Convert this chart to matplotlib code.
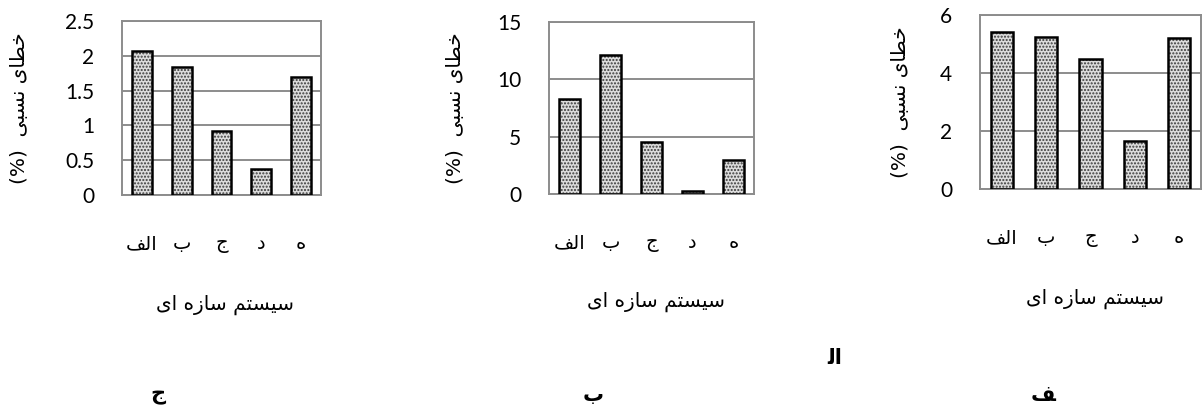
#!/usr/bin/env python3
"""Relative error (%) of five structural systems, drawn as three bar panels.

Persian strings are kept pre-shaped (Arabic presentation forms, stored in
visual left-to-right order) because matplotlib does no shaping or bidi.
"""

import matplotlib

matplotlib.use("Agg")
import matplotlib.pyplot as plt
import numpy as np
from matplotlib.ticker import FuncFormatter, MultipleLocator

# category names: الف ب ج د ه
CATEGORIES = ["\uFED2\uFEDF\uFE8D", "\uFE8F", "\uFE9D", "\uFEA9", "\uFEE9"]
# خطای نسبی (%)
Y_LABEL = "(%)  \uFEF0\uFE92\uFEB4\uFEE7 \uFEEF\uFE8E\uFEC4\uFEA7"
# سیستم سازه ای
X_LABEL = "\uFEEF\uFE8D \uFEE9\uFEAF\uFE8E\uFEB3 \uFEE2\uFE98\uFEB4\uFEF4\uFEB3"

# relative error per system, one list per panel (left to right)
ERR_JIM = [2.07, 1.84, 0.92, 0.38, 1.70]
ERR_BE = [8.3, 12.1, 4.5, 0.3, 2.95]
ERR_ALEF = [5.4, 5.25, 4.5, 1.65, 5.2]

Y_MAX = [2.5, 15, 6]
Y_STEP = [0.5, 5, 2]

GRID = "#8c8c8c"
FONT = ["Lato", "DejaVu Sans"]
AR_FONT = ["DejaVu Sans"]


def draw_panel(fig, rect, values, ymax, step, ylab_x):
    ax = fig.add_axes(rect)
    x = np.arange(len(values))

    # dotted fill first, then a plain black outline on top
    ax.bar(x, values, 0.5, color="#dcdcdc", edgecolor="#3a3a3a",
           hatch=".....", linewidth=0, zorder=2)
    ax.bar(x, values, 0.5, fill=False, edgecolor="black",
           linewidth=1.8, zorder=3)

    ax.set_xlim(-0.5, len(values) - 0.5)
    ax.set_ylim(0, ymax)
    ax.yaxis.set_major_locator(MultipleLocator(step))
    ax.yaxis.set_major_formatter(FuncFormatter(lambda v, _: f"{v:g}"))
    ax.set_axisbelow(True)
    ax.yaxis.grid(True, color=GRID, linewidth=1.4)

    for sp in ax.spines.values():
        sp.set_color(GRID)
        sp.set_linewidth(1.4)

    ax.tick_params(axis="y", length=0, pad=20, labelsize=15)
    for lab in ax.get_yticklabels():
        lab.set_fontfamily(FONT)

    ax.set_xticks(x)
    ax.set_xticklabels(CATEGORIES, fontfamily=AR_FONT, fontsize=14)
    ax.tick_params(axis="x", length=0, pad=28)

    ax.text(0.52, -0.63, X_LABEL, transform=ax.transAxes, ha="center",
            va="center", fontsize=14.5, fontfamily=AR_FONT)
    ax.text(ylab_x, 0.5, Y_LABEL, transform=ax.transAxes, ha="center",
            va="center", rotation=90, fontsize=14.5, fontfamily=AR_FONT)
    return ax


def main():
    W, H = 1202, 407
    fig = plt.figure(figsize=(W / 100, H / 100), dpi=100)

    # axes boxes in pixels: left, top, right, bottom
    boxes = [(122, 21, 321, 195), (549, 22, 754, 194), (980, 15, 1201, 189)]
    ylab_px = [20, 455, 900]
    series = [ERR_JIM, ERR_BE, ERR_ALEF]

    for (l, t, r, b), vals, ymax, step, yl in zip(boxes, series, Y_MAX,
                                                   Y_STEP, ylab_px):
        rect = [l / W, 1 - b / H, (r - l) / W, (b - t) / H]
        draw_panel(fig, rect, vals, ymax, step, (yl - l) / (r - l))

    # panel captions: ج  ب  الف (the last one wrapped over two lines)
    cap = dict(fontsize=15, fontweight="bold", fontfamily=AR_FONT,
               ha="center", va="center")
    fig.text(158 / W, 1 - 395 / H, "\uFE9D", **cap)
    fig.text(593 / W, 1 - 395 / H, "\uFE8F", **cap)
    fig.text(835 / W, 1 - 358 / H, "\uFEDF\uFE8D", **cap)
    fig.text(1043 / W, 1 - 395 / H, "\uFED2", **cap)

    fig.savefig("out.png", dpi=100)


if __name__ == "__main__":
    main()
